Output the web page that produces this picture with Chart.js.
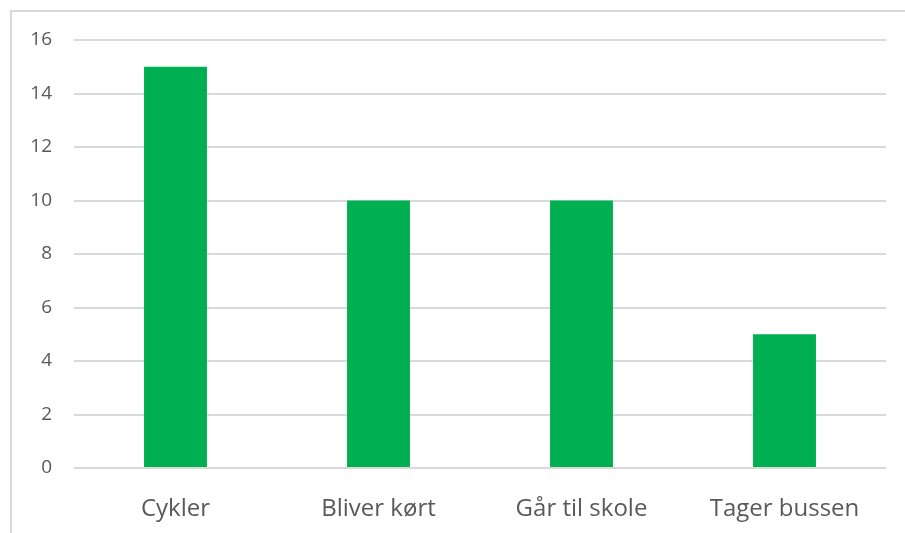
<!DOCTYPE html>
<html>
<head>
<meta charset="utf-8">
<script src="https://cdn.jsdelivr.net/npm/chart.js@4/dist/chart.umd.min.js"></script>
<style>
  html, body { margin: 0; padding: 0; background: #fff; }
  #frame { position: absolute; left: 10px; top: 10px; width: 905px; height: 533px;
           border-left: 2px solid #d9d9d9; border-top: 2px solid #d9d9d9; }
  #wrap { position: absolute; left: 0; top: 0; width: 905px; height: 533px; }
</style>
</head>
<body>
<div id="frame"></div>
<div id="wrap"><canvas id="canvas"></canvas></div>
<script>
var categories = ['Cykler', 'Bliver kørt', 'Går til skole', 'Tager bussen'];
var amount = [15, 10, 10, 5];

const ctx = document.getElementById('canvas');
new Chart(ctx, {
    type: 'bar',
    data: {
        labels: categories,
        datasets: [{
            data: amount,
            backgroundColor: '#00b050',
            borderWidth: 0,
            categoryPercentage: 1,
            barPercentage: 0.31
        }]
    },
    options: {
        responsive: true,
        maintainAspectRatio: false,
        animation: false,
        layout: {
            padding: { left: 0, right: 19, top: 40, bottom: 0 }
        },
        plugins: {
            legend: { display: false },
            tooltip: { enabled: false }
        },
        scales: {
            x: {
                grid: { display: false },
                border: { display: false },
                ticks: {
                    padding: 19,
                    color: '#595959',
                    font: { family: 'Open Sans', size: 24 }
                },
                afterFit: function(scale) { scale.height = 65; }
            },
            y: {
                min: 0,
                max: 16,
                grid: { color: '#d9d9d9', lineWidth: 2, drawTicks: false },
                border: { display: false },
                ticks: {
                    stepSize: 2,
                    padding: 22,
                    color: '#595959',
                    font: { family: 'Open Sans', size: 19 }
                },
                afterFit: function(scale) { scale.width = 74; }
            }
        }
    }
});
</script>
</body>
</html>
